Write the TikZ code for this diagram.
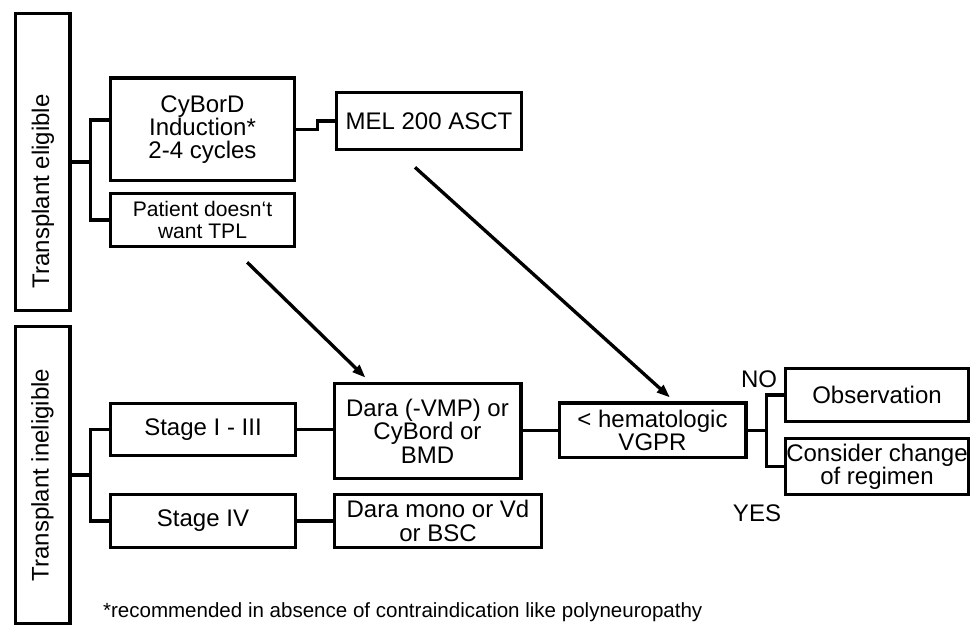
\documentclass[tikz,border=0pt]{standalone}
\usepackage{fontspec}
\setmainfont{Liberation Sans}
\usetikzlibrary{arrows.meta}

\begin{document}
\begin{tikzpicture}[x=0.75pt,y=-0.75pt,line width=2.5pt,
                    >={Triangle[length=10pt,width=7pt]},
                    font=\fontsize{18}{17.5}\selectfont]
  \tikzstyle{box}=[draw=black,fill=none,align=center,inner sep=0pt]
  \tikzstyle{side}=[box,rotate=90,minimum width=223pt,minimum height=41pt]
  \tikzstyle{small}=[font=\fontsize{15.8}{16.2}\selectfont]

  \useasboundingbox (0,0) rectangle (971,630);

  \node[side]                                       (elig)    at (42.5,162)   {};
  \node[rotate=90]                                  (eligtxt) at (43,191.5)   {Transplant eligible};
  \node[side]                                       (inelig)  at (42.5,475)   {Transplant ineligible};

  \node[box,minimum width=138pt,minimum height=77pt]   (cybord)  at (202.5,129.5) {CyBorD\\Induction*\\2-4 cycles};
  \node[box,small,minimum width=138pt,minimum height=40pt] (patient) at (202.5,220) {Patient doesn‘t\\want TPL};
  \node[box,minimum width=139pt,minimum height=43pt]   (mel)     at (429,121)     {MEL 200 ASCT};

  \node[box,minimum width=139pt,minimum height=39pt]   (s13)     at (203,429.5)   {Stage I - III};
  \node[box,minimum width=139pt,minimum height=40pt]   (s4)      at (203,521)     {Stage IV};
  \node[box,minimum width=140pt,minimum height=71.5pt] (dara)    at (427.5,431)   {Dara (-VMP) or\\CyBord or\\BMD};
  \node[box,minimum width=155.5pt,minimum height=40pt] (daramono) at (438,521)    {Dara mono or Vd\\or BSC};
  \node[box,minimum width=140pt,minimum height=41pt]   (hema)    at (652.5,430.5) {< hematologic\\VGPR};
  \node[box,minimum width=137.5pt,minimum height=40pt] (obs)     at (877,395)     {Observation};
  \node[box,minimum width=137.5pt,minimum height=42pt] (cons)    at (877,466.5)   {Consider change\\of regimen};

  \node (no)  at (759,379) {NO};
  \node (yes) at (757,513) {YES};
  \node[anchor=west,font=\fontsize{15.4}{15.4}\selectfont] (note) at (97,612)
       {*recommended in absence of contraindication like polyneuropathy};

  % branches
  \draw (elig.south) -- ++(19,0) coordinate (ej);
  \draw (cybord.west |- 0,120) -| (ej) |- (patient.west);
  \draw (inelig.south) -- ++(19,0) coordinate (ij);
  \draw (s13.west) -| (ij) |- (s4.west);
  \draw (cybord.east) -- ++(21,0) |- (mel.west);
  \draw (s13.east) -- (s13.east -| dara.west);
  \draw (s4.east) -- (daramono.west);
  \draw (dara.east |- hema.west) -- (hema.west);
  \draw (hema.east) -- ++(19,0) coordinate (hj);
  \draw (obs.west) -| (hj) |- (cons.west);

  % arrows
  \draw[->] ([shift={(-49,14)}]patient.south east) -- ([shift={(-62,-4)}]dara.north);
  \draw[->] ([shift={(-14,16)}]mel.south) -- ([shift={(17.5,-4)}]hema.north);
\end{tikzpicture}
\end{document}
